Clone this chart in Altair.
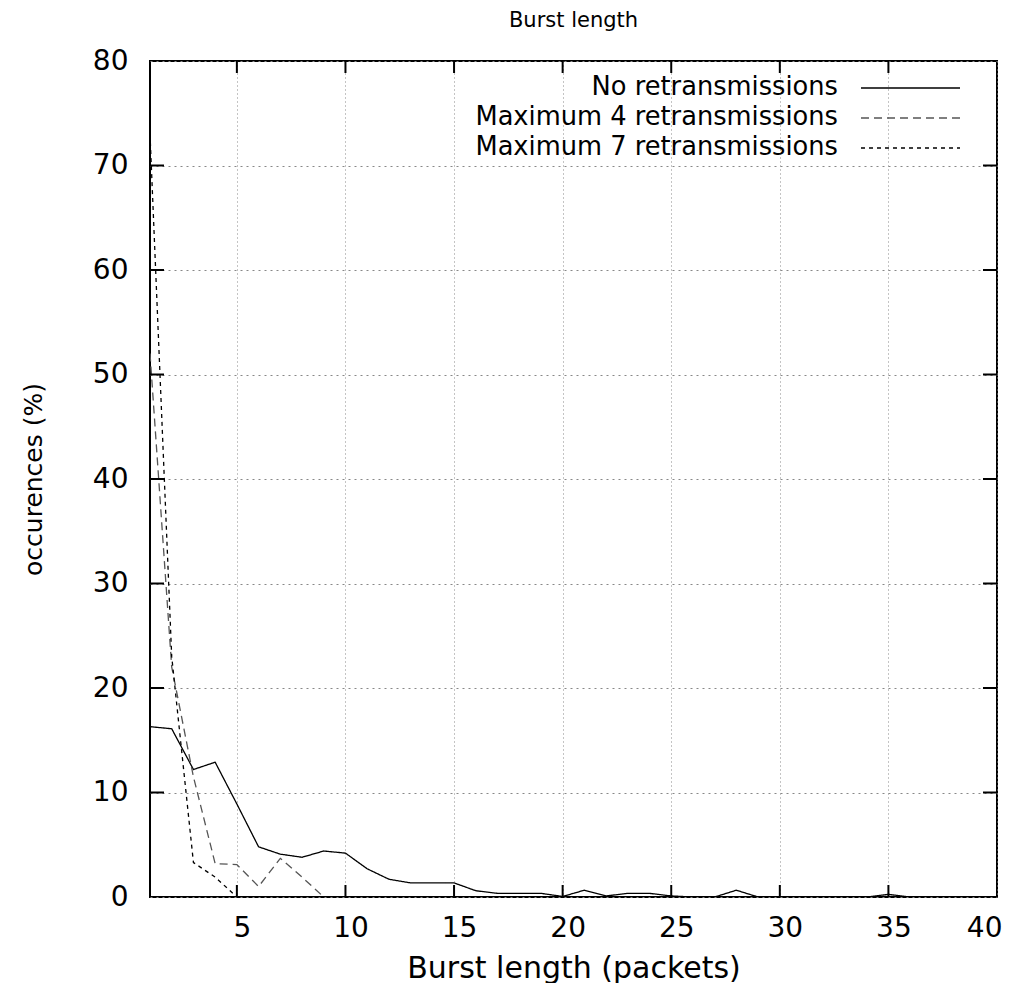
import altair as alt
import pandas as pd

# ---------------- data ----------------
burst = list(range(1, 41))
no_retx = [16.3, 16.1, 12.2, 12.9, 8.9, 4.8, 4.1, 3.8, 4.4, 4.2,
           2.7, 1.7, 1.35, 1.35, 1.35, 0.6, 0.35, 0.35, 0.35, 0.05,
           0.65, 0.1, 0.35, 0.35, 0.1, 0.0, 0.0, 0.65, 0.0, 0.0,
           0.0, 0.0, 0.0, 0.0, 0.25, 0.0, 0.0, 0.0, 0.0, 0.0]
burst_max4 = list(range(1, 10))
max4 = [52.0, 22.0, 11.5, 3.2, 3.1, 1.0, 3.7, 1.9, 0.0]
burst_max7 = list(range(1, 6))
max7 = [73.0, 23.0, 3.3, 1.9, 0.0]

series = ["No retransmissions", "Maximum 4 retransmissions", "Maximum 7 retransmissions"]
chart_title = ["Burst length"]
x_ticks = [5, 10, 15, 20, 25, 30, 35, 40]
y_ticks = [0, 10, 20, 30, 40, 50, 60, 70, 80]
x_inner_ticks = [5, 10, 15, 20, 25, 30, 35]
y_inner_ticks = [10, 20, 30, 40, 50, 60, 70]

# ---------------- styles ----------------
colors = ["#000000", "#555555", "#000000"]
dashes = [[1, 0], [8, 5], [4, 4]]
FONT = "DejaVu Sans"
W, H = 847, 836

df = pd.concat([
    pd.DataFrame({"burst": burst, "occ": no_retx, "series": series[0]}),
    pd.DataFrame({"burst": burst_max4, "occ": max4, "series": series[1]}),
    pd.DataFrame({"burst": burst_max7, "occ": max7, "series": series[2]}),
], ignore_index=True)

x_enc = alt.X(
    "burst:Q",
    scale=alt.Scale(domain=[1, 40], nice=False, zero=False),
    axis=alt.Axis(values=x_ticks, title="Burst length (packets)", grid=True,
                  gridDash=[1, 3], labelPadding=17, labelOffset=5,
                  labelFont=FONT, labelFontSize=28, labelColor="black",
                  titleFont=FONT, titleFontWeight="normal", titleColor="black",
                  titleX=W / 2, titleY=80, titleAlign="center",
                  titleBaseline="alphabetic", titleFontSize=30,
                  domain=False, ticks=False, tickSize=0,
                  gridColor="#888888", gridWidth=1, gridOpacity=1),
)
y_enc = alt.Y(
    "occ:Q",
    scale=alt.Scale(domain=[0, 80], nice=False),
    axis=alt.Axis(values=y_ticks, title="occurences (%)", grid=True,
                  gridDash=[2, 4], labelPadding=22,
                  labelFont=FONT, labelFontSize=28, labelColor="black",
                  titleFont=FONT, titleFontWeight="normal", titleColor="black",
                  titleX=-117, titleY=H / 2, titleAngle=270,
                  titleAlign="center", titleBaseline="middle", titleFontSize=25,
                  domain=False, ticks=False, tickSize=0,
                  gridColor="#888888", gridWidth=1, gridOpacity=1),
)

lines = alt.Chart(df).mark_line(strokeWidth=1.3, clip=True).encode(
    x=x_enc,
    y=y_enc,
    color=alt.Color("series:N", scale=alt.Scale(domain=series, range=colors), legend=None),
    strokeDash=alt.StrokeDash("series:N", scale=alt.Scale(domain=series, range=dashes), legend=None),
)

# inward (gnuplot style) tick marks on all four sides
xt = pd.DataFrame({"burst": x_inner_ticks})
yt = pd.DataFrame({"occ": y_inner_ticks})
tick_style = dict(color="black", strokeWidth=2)
tick_bottom = alt.Chart(xt).mark_rule(**tick_style).encode(
    x="burst:Q", y=alt.value(H), y2=alt.value(H - 12))
tick_top = alt.Chart(xt).mark_rule(**tick_style).encode(
    x="burst:Q", y=alt.value(0), y2=alt.value(12))
tick_left = alt.Chart(yt).mark_rule(**tick_style).encode(
    y="occ:Q", x=alt.value(0), x2=alt.value(14))
tick_right = alt.Chart(yt).mark_rule(**tick_style).encode(
    y="occ:Q", x=alt.value(W), x2=alt.value(W - 14))

# chart title as a text mark above the plot
title_mark = alt.Chart(pd.DataFrame({"t": chart_title})).mark_text(
    align="center", baseline="alphabetic", font=FONT, fontSize=21, color="black"
).encode(x=alt.value(W / 2), y=alt.value(-34), text="t:N")

# key inside the plot, top right: label then line sample
legend_layers = []
for i, name in enumerate(series):
    ld = pd.DataFrame({"label": [name]})
    ypos = 26 + 30 * i
    legend_layers.append(
        alt.Chart(ld).mark_text(align="right", baseline="middle", font=FONT,
                                fontSize=25.7, color="black").encode(
            x=alt.value(688), y=alt.value(ypos), text="label:N"))
    legend_layers.append(
        alt.Chart(ld).mark_rule(color=colors[i], strokeDash=dashes[i], strokeWidth=1.3).encode(
            x=alt.value(711), x2=alt.value(810), y=alt.value(ypos + 1)))

chart = alt.layer(
    lines, tick_bottom, tick_top, tick_left, tick_right, title_mark, *legend_layers
).properties(
    width=W,
    height=H,
    background="white",
    autosize=alt.AutoSizeParams(type="none"),
    padding={"left": 150, "top": 61, "right": 37, "bottom": 86},
).configure_view(
    stroke="black", strokeWidth=2
)

chart.save("out.html", embed_options={"renderer": "svg", "actions": False})
